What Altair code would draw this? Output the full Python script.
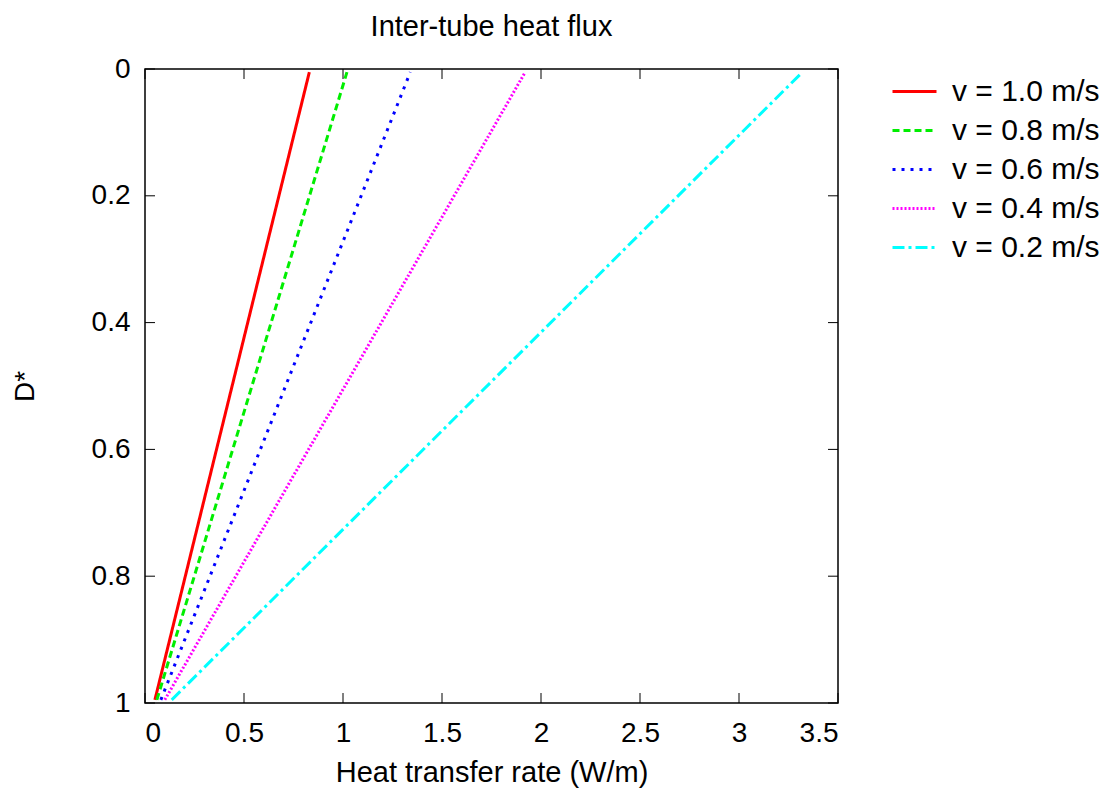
import altair as alt
import pandas as pd

# ---- data ----
series = ["v = 1.0 m/s", "v = 0.8 m/s", "v = 0.6 m/s", "v = 0.4 m/s", "v = 0.2 m/s"]
rate_top = [0.83, 1.02, 1.34, 1.92, 3.32]      # heat transfer rate at D* = 0
rate_bottom = [0.05, 0.06, 0.08, 0.10, 0.135]  # heat transfer rate at D* = 1
d_top = 0.005
d_bottom = 0.995
colors = ["#ff0000", "#00ee00", "#0000ff", "#ff00ff", "#00ffff"]
dashes = [[1, 0], [7, 4], [3, 6], [2, 2], [12, 4, 3, 4]]
x_ticks = [0, 0.5, 1, 1.5, 2, 2.5, 3, 3.5]
y_ticks = [0, 0.2, 0.4, 0.6, 0.8, 1]

rows = []
for s, t, b in zip(series, rate_top, rate_bottom):
    rows.append({"series": s, "rate": t, "d": d_top})
    rows.append({"series": s, "rate": b, "d": d_bottom})
df = pd.DataFrame(rows)

W, H = 693, 634
FONT = "Liberation Sans"
FS = 28
TICK = 10

xscale = alt.Scale(domain=[0, 3.5], nice=False, zero=False)
yscale = alt.Scale(domain=[0, 1], reverse=True, nice=False, zero=False)

lines = alt.Chart(df).mark_line(strokeWidth=3).encode(
    x=alt.X("rate:Q", scale=xscale,
            axis=alt.Axis(values=x_ticks, format="~g", title="Heat transfer rate (W/m)",
                          grid=False, domain=False, ticks=False, labelPadding=16,
                          titlePadding=11, titleFontSize=29)),
    y=alt.Y("d:Q", scale=yscale,
            axis=alt.Axis(values=y_ticks, format="~g", title="D*",
                          grid=False, domain=False, ticks=False, labelPadding=15,
                          titlePadding=52)),
    color=alt.Color("series:N", sort=series,
                    scale=alt.Scale(domain=series, range=colors),
                    legend=alt.Legend(title=None)),
    strokeDash=alt.StrokeDash("series:N", sort=series,
                              scale=alt.Scale(domain=series, range=dashes),
                              legend=alt.Legend(title=None)),
    detail="series:N",
)

xt = pd.DataFrame({"v": x_ticks})
yt = pd.DataFrame({"v": y_ticks})

bottom_ticks = alt.Chart(xt).mark_rule(color="black", strokeWidth=1).encode(
    x=alt.X("v:Q", scale=xscale), y=alt.value(H), y2=alt.value(H - TICK))
top_ticks = alt.Chart(xt).mark_rule(color="black", strokeWidth=1).encode(
    x=alt.X("v:Q", scale=xscale), y=alt.value(0), y2=alt.value(TICK))
left_ticks = alt.Chart(yt).mark_rule(color="black", strokeWidth=1).encode(
    y=alt.Y("v:Q", scale=yscale), x=alt.value(0), x2=alt.value(TICK))
right_ticks = alt.Chart(yt).mark_rule(color="black", strokeWidth=1).encode(
    y=alt.Y("v:Q", scale=yscale), x=alt.value(W), x2=alt.value(W - TICK))

chart = alt.layer(lines, bottom_ticks, top_ticks, left_ticks, right_ticks).properties(
    width=W, height=H,
    title=alt.TitleParams("Inter-tube heat flux", fontSize=29, font=FONT,
                          fontWeight="normal", anchor="middle", offset=13, color="black"),
    autosize=alt.AutoSizeParams(type="none"),
    padding={"left": 145, "top": 69, "right": 268, "bottom": 89},
    background="white",
).configure_view(
    stroke="black", strokeWidth=1.5
).configure_title(
    fontSize=29, font=FONT, fontWeight="normal", color="black"
).configure_axis(
    labelFont=FONT, titleFont=FONT, labelFontSize=FS, titleFontSize=FS,
    labelColor="black", titleColor="black", titleFontWeight="normal",
).configure_legend(
    orient="none", legendX=746, legendY=-1,
    labelFont=FONT, labelFontSize=30, labelColor="black",
    symbolType="stroke", symbolSize=1936, symbolStrokeWidth=3,
    rowPadding=0, labelOffset=14,
)

chart.save("out.html", embed_options={"renderer": "svg", "actions": False})
